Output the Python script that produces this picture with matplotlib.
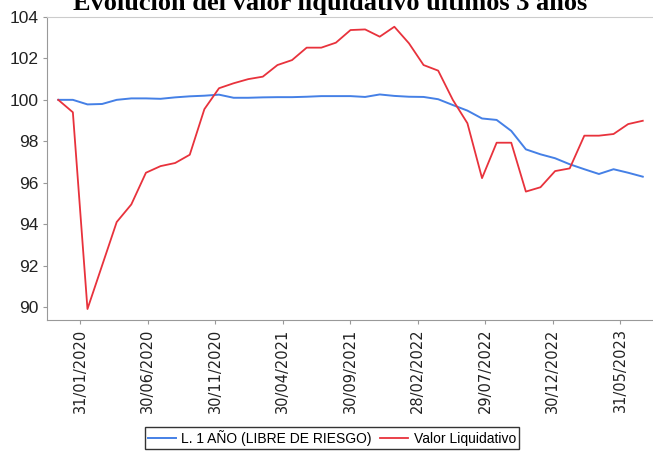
import numpy as np
import matplotlib
matplotlib.use("Agg")
import matplotlib.pyplot as plt

# valores (un punto por periodo)
riesgo = [100.0, 100.0, 99.78, 99.8, 100.0, 100.07, 100.07, 100.05, 100.12, 100.17,
          100.2, 100.25, 100.1, 100.1, 100.12, 100.13, 100.13, 100.15, 100.18, 100.18,
          100.18, 100.14, 100.26, 100.19, 100.15, 100.14, 100.03, 99.75, 99.48, 99.1,
          99.03, 98.5, 97.61, 97.37, 97.18, 96.89, 96.65, 96.42, 96.65, 96.48, 96.29]
liquidativo = [100.0, 99.4, 89.9, 92.0, 94.1, 94.95, 96.48, 96.8, 96.95, 97.35,
               99.55, 100.56, 100.8, 101.0, 101.12, 101.68, 101.92, 102.52, 102.52, 102.76,
               103.37, 103.4, 103.05, 103.53, 102.73, 101.68, 101.41, 100.0, 98.87, 96.22,
               97.93, 97.93, 95.57, 95.78, 96.56, 96.69, 98.27, 98.27, 98.35, 98.83, 98.99]
fechas = ["31/01/2020", "30/06/2020", "30/11/2020", "30/04/2021", "30/09/2021",
          "28/02/2022", "29/07/2022", "30/12/2022", "31/05/2023"]
fechas_pos = [1.49, 6.11, 10.73, 15.35, 19.97, 24.59, 29.21, 33.83, 38.45]
yticks = [90, 92, 94, 96, 98, 100, 102, 104]

x = np.arange(len(riesgo))

fig = plt.figure(figsize=(6.53, 4.55), dpi=100)
ax = fig.add_axes([46.7 / 653, 1 - 320 / 455, 1 - 46.7 / 653, (320 - 17) / 455])

ax.plot(x, riesgo, color="#4580e6", lw=1.4, label="L. 1 AÑO (LIBRE DE RIESGO)")
ax.plot(x, liquidativo, color="#e8323c", lw=1.3, label="Valor Liquidativo")

ax.set_xlim(-0.79, 40.7)
ax.set_ylim(89.37, 104)
ax.set_yticks(yticks)
ax.set_yticklabels([str(v) for v in yticks], family="Liberation Sans", fontsize=12.5, color="#222")
ax.set_xticks(fechas_pos)
ax.set_xticklabels(fechas, rotation=90, fontsize=10.5, color="#222")
ax.tick_params(axis="both", length=3, color="#999", pad=3)

for s in ["left", "bottom"]:
    ax.spines[s].set_color("#999")
ax.spines["top"].set_color("#ccc")
ax.spines["right"].set_visible(False)

# titulo cortado por arriba, como en el original
fig.text(0.505, 1 - 10 / 455, "Evolución del valor liquidativo últimos 3 años",
         ha="center", va="baseline", family="Liberation Serif", fontweight="bold",
         fontsize=19)

leg = fig.legend(loc="center", bbox_to_anchor=(332 / 653, 1 - 438 / 455), ncol=2,
                 prop={"family": "Liberation Sans", "size": 10}, frameon=True,
                 fancybox=False, borderpad=0.2, handlelength=2.0, handletextpad=0.4,
                 columnspacing=0.6, borderaxespad=0)
leg.get_frame().set_edgecolor("black")
leg.get_frame().set_linewidth(1.0)

fig.savefig("out.png", dpi=100)
